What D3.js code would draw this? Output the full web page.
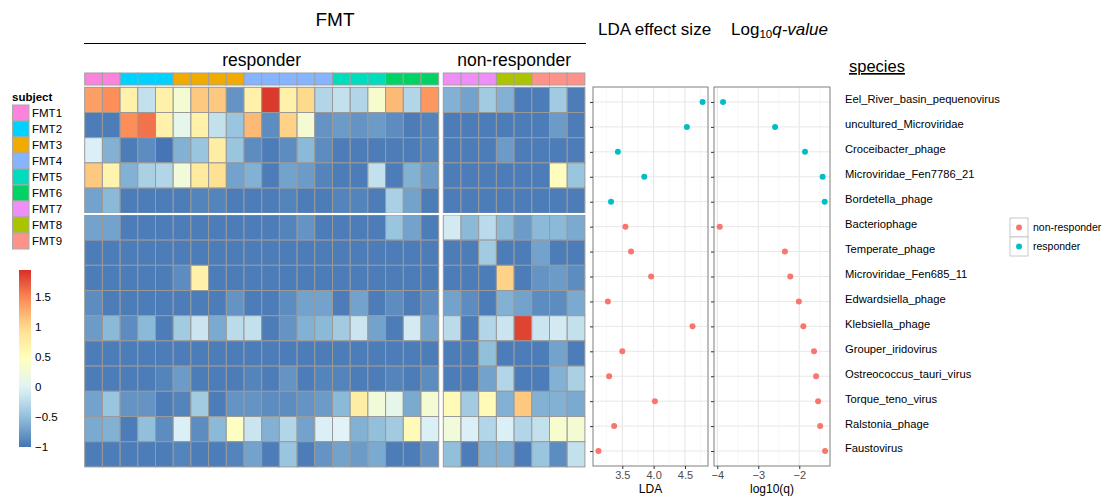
<!DOCTYPE html>
<html>
<head>
<meta charset="utf-8">
<script src="https://cdn.jsdelivr.net/npm/d3@7"></script>
<style>
  body { margin: 0; background: #fff; font-family: "Liberation Sans", Arial, sans-serif; }
  svg text { font-family: "Liberation Sans", Arial, sans-serif; }
</style>
</head>
<body>
<svg id="chart" width="1107" height="497"></svg>
<script>
// ---- data ----
const species = ["Eel_River_basin_pequenovirus", "uncultured_Microviridae", "Croceibacter_phage",
  "Microviridae_Fen7786_21", "Bordetella_phage", "Bacteriophage", "Temperate_phage",
  "Microviridae_Fen685_11", "Edwardsiella_phage", "Klebsiella_phage", "Grouper_iridovirus",
  "Ostreococcus_tauri_virus", "Torque_teno_virus", "Ralstonia_phage", "Faustovirus"];
const enrichedIn = ["responder", "responder", "responder", "responder", "responder",
  "non-responder", "non-responder", "non-responder", "non-responder", "non-responder",
  "non-responder", "non-responder", "non-responder", "non-responder", "non-responder"];
const lda = [4.78, 4.53, 3.43, 3.85, 3.32, 3.55, 3.64, 3.96, 3.27, 4.62, 3.50, 3.29, 4.02, 3.37, 3.12];
const logq = [-3.86, -2.59, -1.86, -1.43, -1.38, -3.94, -2.35, -2.22, -2.01, -1.90, -1.64, -1.59, -1.54, -1.49, -1.37];

const subjects = ["FMT1", "FMT2", "FMT3", "FMT4", "FMT5", "FMT6", "FMT7", "FMT8", "FMT9"];
const subjectColors = ["#fb83dc", "#00d2ff", "#f0aa00", "#86b4ff", "#00dcbc", "#00d263", "#f08ef8", "#abc300", "#ff918b"];
const responderSubjects = ["FMT1", "FMT1", "FMT2", "FMT2", "FMT2", "FMT3", "FMT3", "FMT3", "FMT3",
  "FMT4", "FMT4", "FMT4", "FMT4", "FMT4", "FMT5", "FMT5", "FMT5", "FMT6", "FMT6", "FMT6"];
const nonResponderSubjects = ["FMT7", "FMT7", "FMT7", "FMT8", "FMT8", "FMT9", "FMT9", "FMT9"];

// scaled abundance, one row per species
const responderValues = [
  [1.35, 1.45, 0.7, -0.2, 0.7, 0.3, 1.1, 1.1, -0.8, 0.7, 1.9, 0.7, 1.0, -0.3, -0.2, -0.3, 0.35, 1.2, -0.3, 1.4],
  [-0.95, -0.95, 1.45, 1.6, 0.7, 0.1, 0.7, -0.2, -0.45, 1.2, -0.85, 1.05, 0.3, -0.8, -0.75, -0.8, -0.75, -0.85, -0.95, -0.9],
  [-0.05, -0.6, -0.95, -0.85, -1, -0.6, -0.45, 0.75, -0.45, -0.85, -0.95, -0.85, -0.55, -0.85, -0.95, -0.95, -0.95, -0.95, -0.95, -0.9],
  [1.1, 0.65, -0.6, -0.35, -0.3, 0.25, 0.8, 0.95, -0.7, -0.6, -0.95, -0.7, -0.75, -0.9, -0.95, -0.95, -0.2, -0.95, -0.6, -0.75],
  [-0.7, -0.55, -0.95, -0.95, -0.95, -0.95, -0.9, -0.9, -0.95, -0.95, -0.95, -0.9, -0.95, -0.95, -0.9, -0.9, -0.95, -0.35, -0.7, -0.95],
  [-0.7, -0.7, -0.95, -0.95, -0.95, -0.95, -0.95, -0.95, -0.95, -0.95, -0.95, -0.9, -0.8, -0.95, -0.95, -0.95, -0.95, -0.45, -0.7, -0.95],
  [-0.95, -0.95, -0.95, -0.95, -0.95, -0.95, -0.95, -0.95, -0.95, -0.95, -0.95, -0.95, -0.95, -0.95, -0.95, -0.95, -0.95, -0.95, -0.95, -0.95],
  [-0.95, -0.95, -0.95, -0.95, -0.95, -0.85, 0.7, -0.95, -0.95, -0.95, -0.95, -0.95, -0.95, -0.95, -0.95, -0.95, -0.95, -0.95, -0.95, -0.95],
  [-0.85, -0.95, -0.95, -0.95, -0.95, -0.95, -0.95, -0.95, -0.8, -0.95, -0.95, -0.85, -0.7, -0.7, -0.95, -0.7, -0.95, -0.85, -0.95, -0.85],
  [-0.75, -0.55, -0.85, -0.55, -0.95, -0.4, -0.15, -0.65, -0.25, -0.2, -0.95, -0.8, -0.6, -0.55, -0.4, -0.15, -0.7, -0.95, -0.1, -0.7],
  [-0.95, -0.95, -0.95, -0.95, -0.95, -0.95, -0.95, -0.95, -0.95, -0.95, -0.95, -0.95, -0.95, -0.95, -0.95, -0.95, -0.95, -0.95, -0.95, -0.95],
  [-0.95, -0.95, -0.95, -0.95, -0.9, -0.75, -0.95, -0.95, -0.95, -0.9, -0.95, -0.8, -0.95, -0.9, -0.9, -0.95, -0.95, -0.9, -0.95, -0.85],
  [-0.7, -0.45, -0.8, -0.8, -0.95, -0.9, -0.4, -0.95, -0.8, -0.8, -0.85, -0.85, -0.8, -0.75, -0.55, 0.75, 0.25, 0.1, -0.65, 0.3],
  [-0.65, -0.6, -0.95, -0.5, -0.85, -0.05, -0.85, -0.55, 0.45, -0.15, -0.6, -0.3, -0.7, -0.05, 0.0, -0.6, -0.5, -0.4, 0.55, -0.05],
  [-0.95, -0.95, -0.95, -0.95, -0.95, -0.9, -0.95, -0.95, -0.9, -0.7, -0.95, -0.45, -0.95, -0.8, -0.7, -0.75, -0.65, -0.95, -0.95, -0.8]
];
const nonResponderValues = [
  [-0.6, -0.7, -0.4, -0.6, -0.95, -0.95, -0.4, -0.95],
  [-0.95, -0.95, -0.95, -0.95, -0.95, -0.95, -0.75, -0.95],
  [-0.95, -0.95, -0.95, -0.75, -0.95, -0.95, -0.95, -0.95],
  [-0.95, -0.95, -0.95, -0.95, -0.95, -0.95, 0.5, -0.45],
  [-0.95, -0.95, -0.95, -0.95, -0.95, -0.95, -0.95, -0.95],
  [-0.1, -0.55, -0.25, -0.55, -0.75, -0.55, -0.55, -0.65],
  [-0.95, -0.95, -0.4, -0.95, -0.95, -0.7, -0.95, -0.95],
  [-0.95, -0.95, -0.95, 1.05, -0.95, -0.8, -0.75, -0.85],
  [-0.7, -0.85, -0.95, -0.6, -0.7, -0.85, -0.85, -0.65],
  [-0.25, -0.95, -0.3, -0.15, 1.85, -0.15, -0.1, -0.2],
  [-0.95, -0.95, -0.5, -0.95, -0.95, -0.95, -0.7, -0.95],
  [-0.95, -0.95, -0.7, -0.3, -0.95, -0.95, -0.6, -0.35],
  [0.55, -0.4, 0.55, -0.6, 1.1, -0.6, -0.6, -0.65],
  [0.25, -0.05, -0.3, -0.05, -0.3, -0.2, 0.35, 0.3],
  [-0.5, -0.95, -0.6, -0.6, -0.95, -0.45, -0.85, -0.2]
];

const legendTicks = [-1, -0.5, 0, 0.5, 1, 1.5];
const ldaTicks = [3.5, 4.0, 4.5];
const logqTicks = [-4, -3, -2];

// ---- setup ----
const svg = d3.select("#chart");
const palette = ["#4575b4", "#91bfdb", "#e0f3f8", "#ffffbf", "#fee090", "#fc8d59", "#d73027"];
const vMin = -1, vMax = 1.95;
const color = d3.scaleLinear()
  .domain(d3.range(palette.length).map(i => vMin + i * (vMax - vMin) / (palette.length - 1)))
  .range(palette);
const subjectColor = d3.scaleOrdinal().domain(subjects).range(subjectColors);

const cellW = 17.7, cellH = 25.2, heatTop = 87.3, rowGap = 1.6, splitRow = 5;
const blocks = [
  {name: "responder", x0: 84.7, subj: responderSubjects, vals: responderValues},
  {name: "non-responder", x0: 443.3, subj: nonResponderSubjects, vals: nonResponderValues}
];
function rowY(i) { return heatTop + i * cellH + (i >= splitRow ? rowGap : 0); }

// titles
svg.append("text").attr("x", 335).attr("y", 26).attr("text-anchor", "middle")
  .attr("font-size", 19).text("FMT");
svg.append("line").attr("x1", 84).attr("x2", 586).attr("y1", 43.5).attr("y2", 43.5)
  .attr("stroke", "#000").attr("stroke-width", 1);

blocks.forEach(b => {
  const n = b.subj.length;
  const g = svg.append("g");
  g.append("text").attr("x", b.x0 + n * cellW / 2).attr("y", 66).attr("text-anchor", "middle")
    .attr("font-size", 17.5).text(b.name);
  // subject annotation
  g.selectAll("rect.subj").data(b.subj).enter().append("rect")
    .attr("class", "subj")
    .attr("x", (d, i) => b.x0 + i * cellW).attr("y", 73)
    .attr("width", cellW).attr("height", 12)
    .attr("fill", d => subjectColor(d)).attr("stroke", "#a0a0a0").attr("stroke-width", 1);
  // cells
  const rows = g.selectAll("g.row").data(b.vals).enter().append("g")
    .attr("transform", (d, i) => "translate(0," + rowY(i) + ")");
  rows.selectAll("rect").data(d => d).enter().append("rect")
    .attr("x", (d, i) => b.x0 + i * cellW).attr("y", 0)
    .attr("width", cellW).attr("height", cellH)
    .attr("fill", d => color(d)).attr("stroke", "#999").attr("stroke-width", 1);
  // gap between clusters
  g.append("rect").attr("x", b.x0 - 1).attr("y", rowY(splitRow) - rowGap - 0.3)
    .attr("width", n * cellW + 2).attr("height", rowGap + 0.3).attr("fill", "#fff");
});

// subject legend
const sl = svg.append("g");
sl.append("text").attr("x", 12).attr("y", 101).attr("font-size", 11.5).attr("font-weight", "bold").text("subject");
sl.selectAll("rect").data(subjects).enter().append("rect")
  .attr("x", 12.5).attr("y", (d, i) => 105 + i * 16).attr("width", 16.5).attr("height", 16)
  .attr("fill", d => subjectColor(d)).attr("stroke", "#aaa").attr("stroke-width", 1);
sl.selectAll("text.lab").data(subjects).enter().append("text").attr("class", "lab")
  .attr("x", 32).attr("y", (d, i) => 113 + i * 16).attr("dy", "0.35em")
  .attr("font-size", 11.5).text(d => d);

// colour legend
const ly = d3.scaleLinear().domain([vMin, vMax]).range([447, 270]);
const defs = svg.append("defs");
const grad = defs.append("linearGradient").attr("id", "cgrad")
  .attr("x1", 0).attr("y1", 1).attr("x2", 0).attr("y2", 0);
d3.range(0, 1.0001, 0.05).forEach(t => {
  grad.append("stop").attr("offset", t).attr("stop-color", color(vMin + t * (vMax - vMin)));
});
svg.append("rect").attr("x", 19).attr("y", ly(vMax)).attr("width", 12)
  .attr("height", ly(vMin) - ly(vMax)).attr("fill", "url(#cgrad)");
svg.selectAll("text.ctick").data(legendTicks).enter().append("text").attr("class", "ctick")
  .attr("x", 35).attr("y", d => ly(d)).attr("dy", "0.35em").attr("font-size", 11.5)
  .text(d => d3.format("")(d));

// ---- dot plots ----
const panTop = 87, panBot = 466;
const y = d3.scalePoint().domain(species).range([panTop, panBot]).padding(0.6);
const dotColor = d3.scaleOrdinal().domain(["non-responder", "responder"]).range(["#f8766d", "#00bfc4"]);

function dotPanel(x0, x1, domain, ticks, minorStep, values, xLabel) {
  const x = d3.scaleLinear().domain(domain).range([x0, x1]);
  const g = svg.append("g");
  const minor = d3.range(Math.ceil(domain[0] / minorStep) * minorStep, domain[1], minorStep)
    .filter(v => !ticks.some(t => Math.abs(t - v) < 1e-6));
  g.selectAll("line.minor").data(minor).enter().append("line")
    .attr("x1", d => x(d)).attr("x2", d => x(d)).attr("y1", panTop).attr("y2", panBot)
    .attr("stroke", "#f2f2f2").attr("stroke-width", 0.6);
  g.selectAll("line.vmaj").data(ticks).enter().append("line")
    .attr("x1", d => x(d)).attr("x2", d => x(d)).attr("y1", panTop).attr("y2", panBot)
    .attr("stroke", "#e3e3e3").attr("stroke-width", 1);
  g.selectAll("line.hmaj").data(species).enter().append("line")
    .attr("x1", x0).attr("x2", x1).attr("y1", d => y(d)).attr("y2", d => y(d))
    .attr("stroke", "#e8e8e8").attr("stroke-width", 1);
  g.selectAll("circle").data(species).enter().append("circle")
    .attr("cx", (d, i) => x(values[i])).attr("cy", d => y(d)).attr("r", 3)
    .attr("fill", (d, i) => dotColor(enrichedIn[i]));
  g.append("rect").attr("x", x0).attr("y", panTop).attr("width", x1 - x0).attr("height", panBot - panTop)
    .attr("fill", "none").attr("stroke", "#7f7f7f").attr("stroke-width", 1);
  // axes
  const yAxis = g.append("g").attr("transform", "translate(" + x0 + ",0)")
    .call(d3.axisLeft(y).tickSize(3).tickFormat(""));
  yAxis.select(".domain").remove();
  yAxis.selectAll("line").attr("stroke", "#333");
  const xAxis = g.append("g").attr("transform", "translate(0," + panBot + ")")
    .call(d3.axisBottom(x).tickValues(ticks).tickSize(3).tickPadding(2)
      .tickFormat(d => Number.isInteger(d) && domain[0] > 0 ? d.toFixed(1) : d3.format("")(d)));
  xAxis.select(".domain").remove();
  xAxis.selectAll("line").attr("stroke", "#333");
  xAxis.selectAll("text").attr("fill", "#4d4d4d").attr("font-size", 11)
    .attr("font-family", "Liberation Sans, Arial, sans-serif");
  g.append("text").attr("x", (x0 + x1) / 2).attr("y", 493).attr("text-anchor", "middle")
    .attr("font-size", 12).text(xLabel);
}
dotPanel(593, 708, [3.033, 4.867], ldaTicks, 0.25, lda, "LDA");
dotPanel(714, 830, [-4.08, -1.25], logqTicks, 0.5, logq, "log10(q)");

// header texts
svg.append("text").attr("x", 598).attr("y", 35).attr("font-size", 17).text("LDA effect size");
const lq = svg.append("text").attr("x", 731).attr("y", 35).attr("font-size", 17);
lq.append("tspan").text("Log");
lq.append("tspan").attr("font-size", 11.5).attr("dy", 3).text("10");
lq.append("tspan").attr("dy", -3).attr("font-style", "italic").text("q-value");

// species labels
svg.append("text").attr("x", 849).attr("y", 72).attr("font-size", 16.5)
  .attr("text-decoration", "underline").text("species");
svg.selectAll("text.sp").data(species).enter().append("text").attr("class", "sp")
  .attr("x", 845).attr("y", d => y(d) - 2.5).attr("dy", "0.35em").attr("font-size", 11.2)
  .text(d => d);

// group legend
const gl = svg.append("g").attr("transform", "translate(1010,218)");
["non-responder", "responder"].forEach((k, i) => {
  gl.append("rect").attr("x", 0).attr("y", i * 19).attr("width", 18).attr("height", 19)
    .attr("fill", "#fff").attr("stroke", "#bbb").attr("stroke-width", 0.8);
  gl.append("circle").attr("cx", 9).attr("cy", i * 19 + 9.5).attr("r", 3).attr("fill", dotColor(k));
  gl.append("text").attr("x", 23).attr("y", i * 19 + 9.5).attr("dy", "0.35em")
    .attr("font-size", 10.5).text(k);
});
</script>
</body>
</html>
